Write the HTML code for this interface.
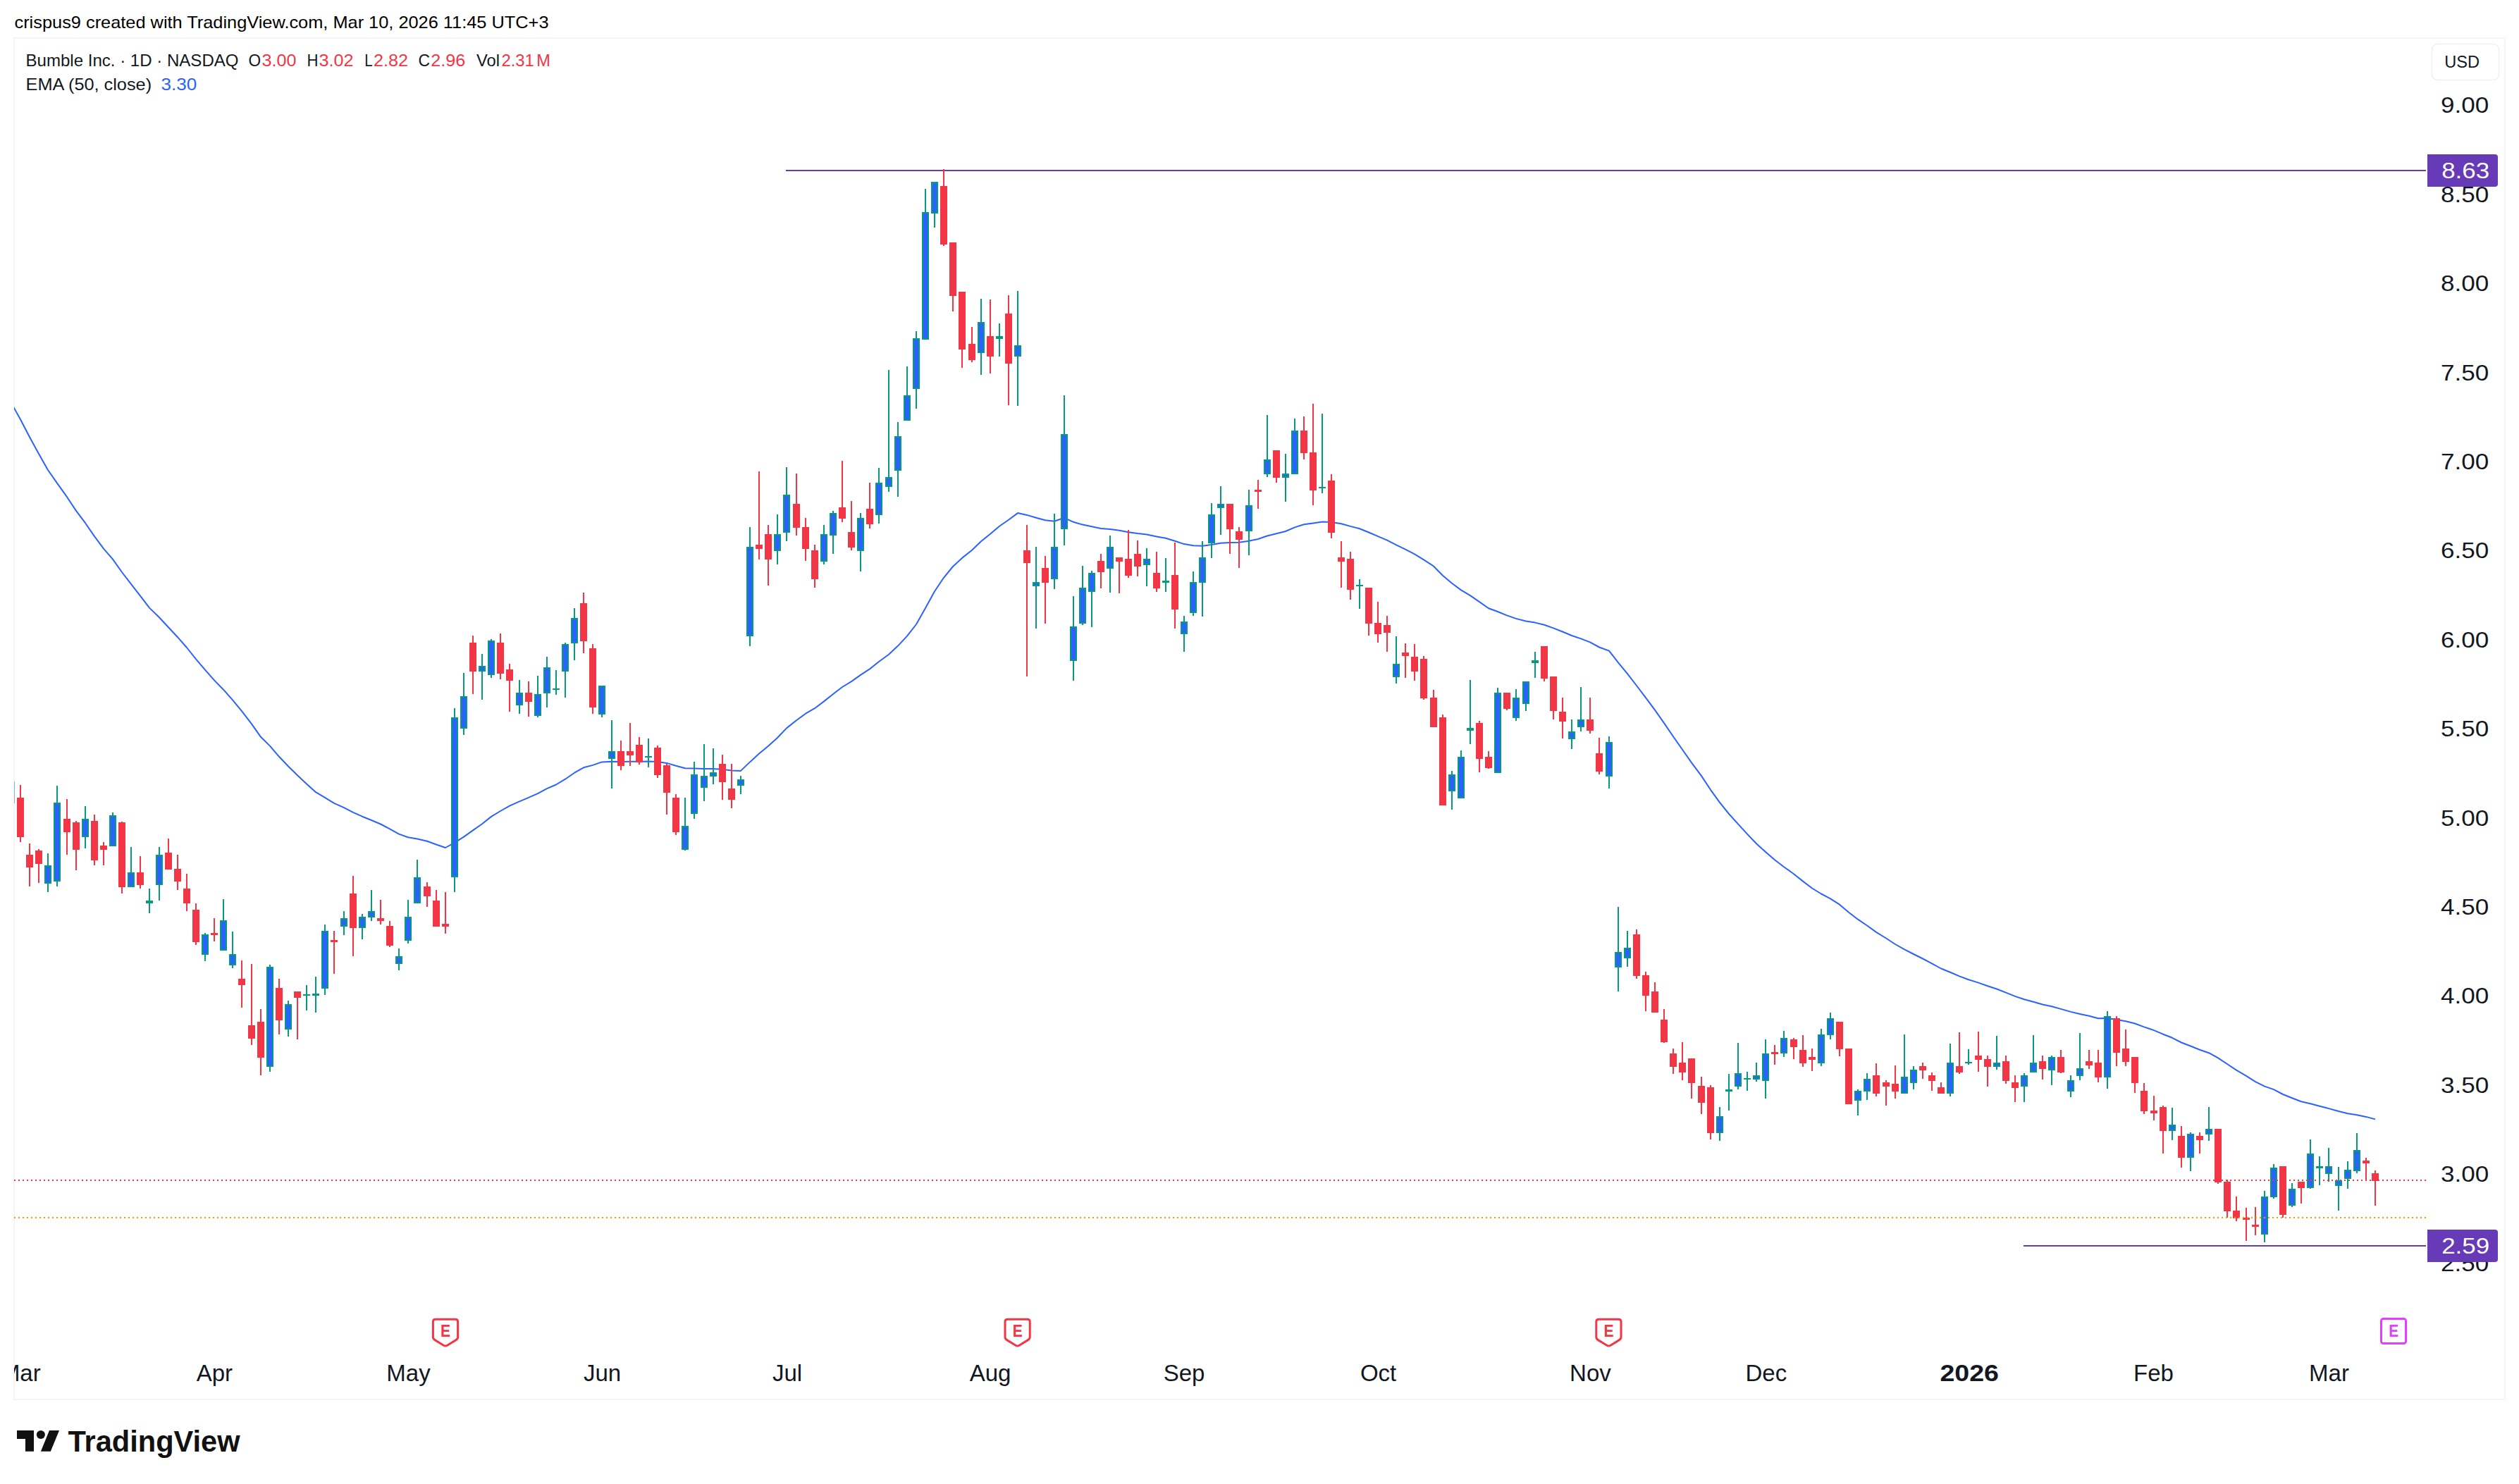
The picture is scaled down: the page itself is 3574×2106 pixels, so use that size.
<!DOCTYPE html>
<html lang="en"><head><meta charset="utf-8"><title>Bumble Inc. chart</title>
<style>html,body{margin:0;padding:0;background:#fff}body{width:3574px;height:2106px;position:relative;overflow:hidden}</style>
</head><body>
<svg width="3574" height="2106" viewBox="0 0 3574 2106" style="position:absolute;left:0;top:0;font-family:'Liberation Sans',sans-serif">
<rect x="0" y="0" width="3574" height="2106" fill="#ffffff"/>
<rect x="20" y="54" width="3534" height="1932" fill="none" stroke="#f4f4f5" stroke-width="2" shape-rendering="crispEdges"/>
<defs><clipPath id="plot"><rect x="20" y="55" width="3422" height="1930"/></clipPath></defs>
<g shape-rendering="crispEdges">
<rect x="1115" y="241" width="2327" height="2" fill="#673AB7"/>
<rect x="2871" y="1767" width="571" height="2" fill="#673AB7"/>
</g>
<polyline points="16.0,571.8 29.0,595.2 42.0,620.2 55.0,644.0 68.0,667.0 81.0,685.6 95.0,705.2 108.0,724.9 121.0,742.2 134.0,761.1 147.0,778.7 160.0,793.7 173.0,812.0 186.0,828.9 199.0,845.6 212.0,862.6 226.0,876.2 239.0,890.2 252.0,904.2 265.0,919.0 278.0,935.3 291.0,950.7 304.0,965.4 317.0,978.7 330.0,993.4 343.0,1009.2 357.0,1027.3 370.0,1045.8 383.0,1058.6 396.0,1073.8 409.0,1087.5 422.0,1100.3 435.0,1112.5 448.0,1124.2 461.0,1131.8 474.0,1139.9 488.0,1146.2 501.0,1152.9 514.0,1158.7 527.0,1164.0 540.0,1169.5 553.0,1176.4 566.0,1183.6 579.0,1188.2 592.0,1190.5 606.0,1193.7 619.0,1198.5 632.0,1203.0 645.0,1195.8 658.0,1187.6 671.0,1178.4 684.0,1169.2 697.0,1158.9 710.0,1151.0 723.0,1143.7 737.0,1137.4 750.0,1131.9 763.0,1126.1 776.0,1119.1 789.0,1113.5 802.0,1105.7 815.0,1096.7 828.0,1089.3 841.0,1085.9 854.0,1081.4 868.0,1080.8 881.0,1081.0 894.0,1080.7 907.0,1080.7 920.0,1080.4 933.0,1081.1 946.0,1082.9 959.0,1086.8 972.0,1090.2 985.0,1090.5 999.0,1091.0 1012.0,1091.1 1025.0,1091.8 1038.0,1093.4 1051.0,1093.9 1064.0,1081.4 1077.0,1069.5 1090.0,1058.7 1103.0,1047.0 1116.0,1033.4 1130.0,1022.3 1143.0,1012.7 1156.0,1005.2 1169.0,995.4 1182.0,985.0 1195.0,975.0 1208.0,967.1 1221.0,957.9 1234.0,949.4 1247.0,939.0 1261.0,928.7 1274.0,916.6 1287.0,902.6 1300.0,886.0 1313.0,863.0 1326.0,839.2 1339.0,819.8 1352.0,804.0 1365.0,791.9 1379.0,780.8 1392.0,768.2 1405.0,757.8 1418.0,746.8 1431.0,737.7 1444.0,728.1 1457.0,730.9 1470.0,734.7 1483.0,738.3 1496.0,739.7 1510.0,734.8 1523.0,740.8 1536.0,744.6 1549.0,747.3 1562.0,749.9 1575.0,750.9 1588.0,752.7 1601.0,755.2 1614.0,757.1 1627.0,758.5 1641.0,761.4 1654.0,763.8 1667.0,767.7 1680.0,772.1 1693.0,774.2 1706.0,774.8 1719.0,773.0 1732.0,770.7 1745.0,769.9 1758.0,769.8 1772.0,767.7 1785.0,765.0 1798.0,760.5 1811.0,757.3 1824.0,754.0 1837.0,748.4 1850.0,744.3 1863.0,742.4 1876.0,740.4 1889.0,741.0 1903.0,743.2 1916.0,746.9 1929.0,750.2 1942.0,755.5 1955.0,761.2 1968.0,766.6 1981.0,773.4 1994.0,779.6 2007.0,786.4 2020.0,794.3 2034.0,803.5 2047.0,816.8 2060.0,827.8 2073.0,837.4 2086.0,845.1 2099.0,854.1 2112.0,863.3 2125.0,868.0 2138.0,873.4 2151.0,877.9 2165.0,881.5 2178.0,883.6 2191.0,886.7 2204.0,891.4 2217.0,896.5 2230.0,902.0 2243.0,906.4 2256.0,911.4 2269.0,918.5 2283.0,923.6 2296.0,940.3 2309.0,956.2 2322.0,973.0 2335.0,990.2 2348.0,1007.7 2361.0,1026.1 2374.0,1045.2 2387.0,1063.8 2400.0,1082.3 2414.0,1101.1 2427.0,1120.8 2440.0,1138.9 2453.0,1155.0 2466.0,1169.4 2479.0,1183.6 2492.0,1197.2 2505.0,1208.9 2518.0,1220.2 2531.0,1230.2 2545.0,1240.2 2558.0,1250.6 2571.0,1260.5 2584.0,1268.5 2597.0,1275.4 2610.0,1283.7 2623.0,1294.7 2636.0,1304.7 2649.0,1313.5 2662.0,1322.9 2676.0,1331.5 2689.0,1340.0 2702.0,1347.3 2715.0,1354.0 2728.0,1360.5 2741.0,1367.3 2754.0,1374.5 2767.0,1379.8 2780.0,1385.4 2793.0,1390.2 2807.0,1394.6 2820.0,1399.2 2833.0,1403.5 2846.0,1408.6 2859.0,1413.9 2872.0,1418.3 2885.0,1421.8 2898.0,1425.5 2911.0,1428.3 2924.0,1431.9 2938.0,1435.9 2951.0,1439.0 2964.0,1441.8 2977.0,1445.2 2990.0,1445.0 3003.0,1446.9 3016.0,1449.2 3029.0,1452.5 3042.0,1457.4 3056.0,1462.1 3069.0,1467.7 3082.0,1472.8 3095.0,1479.5 3108.0,1484.5 3121.0,1489.8 3134.0,1494.2 3147.0,1501.4 3160.0,1510.0 3173.0,1518.6 3187.0,1526.9 3200.0,1535.2 3213.0,1541.6 3226.0,1546.1 3239.0,1553.0 3252.0,1558.3 3265.0,1563.3 3278.0,1566.2 3291.0,1569.7 3304.0,1573.1 3318.0,1577.0 3331.0,1580.2 3344.0,1582.2 3357.0,1584.9 3370.0,1588.4" fill="none" stroke="#2962FF" stroke-width="2" stroke-linejoin="round" stroke-linecap="butt" clip-path="url(#plot)"/>
<g shape-rendering="crispEdges" clip-path="url(#plot)">
<rect x="20" y="1109" width="1" height="31" fill="#7dc1b4" clip-path="none"/>
<rect x="28" y="1114" width="2" height="18" fill="#F23645"/>
<rect x="28" y="1188" width="2" height="7" fill="#F23645"/>
<rect x="24" y="1132" width="10" height="56" fill="#F23645"/>
<rect x="41" y="1197" width="2" height="16" fill="#F23645"/>
<rect x="41" y="1231" width="2" height="27" fill="#F23645"/>
<rect x="37" y="1213" width="10" height="18" fill="#F23645"/>
<rect x="54" y="1205" width="2" height="2" fill="#F23645"/>
<rect x="54" y="1226" width="2" height="27" fill="#F23645"/>
<rect x="50" y="1207" width="10" height="19" fill="#F23645"/>
<rect x="67" y="1211" width="2" height="17" fill="#089981"/>
<rect x="67" y="1254" width="2" height="12" fill="#089981"/>
<rect x="63" y="1228" width="10" height="26" fill="#089981"/>
<rect x="65" y="1230" width="6" height="22" fill="#2962FF"/>
<rect x="80" y="1115" width="2" height="24" fill="#089981"/>
<rect x="80" y="1251" width="2" height="7" fill="#089981"/>
<rect x="76" y="1139" width="10" height="112" fill="#089981"/>
<rect x="78" y="1141" width="6" height="108" fill="#2962FF"/>
<rect x="94" y="1134" width="2" height="28" fill="#F23645"/>
<rect x="94" y="1181" width="2" height="32" fill="#F23645"/>
<rect x="90" y="1162" width="10" height="19" fill="#F23645"/>
<rect x="107" y="1165" width="2" height="2" fill="#F23645"/>
<rect x="107" y="1206" width="2" height="29" fill="#F23645"/>
<rect x="103" y="1167" width="10" height="39" fill="#F23645"/>
<rect x="120" y="1144" width="2" height="18" fill="#089981"/>
<rect x="120" y="1188" width="2" height="16" fill="#089981"/>
<rect x="116" y="1162" width="10" height="26" fill="#089981"/>
<rect x="118" y="1164" width="6" height="22" fill="#2962FF"/>
<rect x="133" y="1156" width="2" height="9" fill="#F23645"/>
<rect x="133" y="1221" width="2" height="7" fill="#F23645"/>
<rect x="129" y="1165" width="10" height="56" fill="#F23645"/>
<rect x="146" y="1195" width="2" height="5" fill="#F23645"/>
<rect x="146" y="1206" width="2" height="22" fill="#F23645"/>
<rect x="142" y="1200" width="10" height="6" fill="#F23645"/>
<rect x="159" y="1153" width="2" height="4" fill="#089981"/>
<rect x="155" y="1157" width="10" height="44" fill="#089981"/>
<rect x="157" y="1159" width="6" height="40" fill="#2962FF"/>
<rect x="172" y="1166" width="2" height="1" fill="#F23645"/>
<rect x="172" y="1259" width="2" height="9" fill="#F23645"/>
<rect x="168" y="1167" width="10" height="92" fill="#F23645"/>
<rect x="185" y="1202" width="2" height="36" fill="#089981"/>
<rect x="181" y="1238" width="10" height="21" fill="#089981"/>
<rect x="183" y="1240" width="6" height="17" fill="#2962FF"/>
<rect x="198" y="1215" width="2" height="23" fill="#F23645"/>
<rect x="198" y="1256" width="2" height="5" fill="#F23645"/>
<rect x="194" y="1238" width="10" height="18" fill="#F23645"/>
<rect x="211" y="1261" width="2" height="17" fill="#089981"/>
<rect x="211" y="1282" width="2" height="14" fill="#089981"/>
<rect x="207" y="1278" width="10" height="4" fill="#089981"/>
<rect x="225" y="1202" width="2" height="11" fill="#089981"/>
<rect x="225" y="1256" width="2" height="22" fill="#089981"/>
<rect x="221" y="1213" width="10" height="43" fill="#089981"/>
<rect x="223" y="1215" width="6" height="39" fill="#2962FF"/>
<rect x="238" y="1190" width="2" height="20" fill="#F23645"/>
<rect x="234" y="1210" width="10" height="24" fill="#F23645"/>
<rect x="251" y="1213" width="2" height="20" fill="#F23645"/>
<rect x="251" y="1251" width="2" height="12" fill="#F23645"/>
<rect x="247" y="1233" width="10" height="18" fill="#F23645"/>
<rect x="264" y="1240" width="2" height="21" fill="#F23645"/>
<rect x="264" y="1282" width="2" height="11" fill="#F23645"/>
<rect x="260" y="1261" width="10" height="21" fill="#F23645"/>
<rect x="277" y="1282" width="2" height="9" fill="#F23645"/>
<rect x="277" y="1337" width="2" height="4" fill="#F23645"/>
<rect x="273" y="1291" width="10" height="46" fill="#F23645"/>
<rect x="290" y="1324" width="2" height="2" fill="#089981"/>
<rect x="290" y="1355" width="2" height="9" fill="#089981"/>
<rect x="286" y="1326" width="10" height="29" fill="#089981"/>
<rect x="288" y="1328" width="6" height="25" fill="#2962FF"/>
<rect x="303" y="1303" width="2" height="21" fill="#F23645"/>
<rect x="303" y="1327" width="2" height="9" fill="#F23645"/>
<rect x="299" y="1324" width="10" height="3" fill="#F23645"/>
<rect x="316" y="1276" width="2" height="30" fill="#089981"/>
<rect x="312" y="1306" width="10" height="43" fill="#089981"/>
<rect x="314" y="1308" width="6" height="39" fill="#2962FF"/>
<rect x="329" y="1322" width="2" height="32" fill="#089981"/>
<rect x="329" y="1370" width="2" height="4" fill="#089981"/>
<rect x="325" y="1354" width="10" height="16" fill="#089981"/>
<rect x="327" y="1356" width="6" height="12" fill="#2962FF"/>
<rect x="342" y="1363" width="2" height="26" fill="#F23645"/>
<rect x="342" y="1398" width="2" height="32" fill="#F23645"/>
<rect x="338" y="1389" width="10" height="9" fill="#F23645"/>
<rect x="356" y="1368" width="2" height="87" fill="#F23645"/>
<rect x="356" y="1474" width="2" height="9" fill="#F23645"/>
<rect x="352" y="1455" width="10" height="19" fill="#F23645"/>
<rect x="369" y="1432" width="2" height="18" fill="#F23645"/>
<rect x="369" y="1501" width="2" height="25" fill="#F23645"/>
<rect x="365" y="1450" width="10" height="51" fill="#F23645"/>
<rect x="382" y="1369" width="2" height="3" fill="#089981"/>
<rect x="382" y="1514" width="2" height="7" fill="#089981"/>
<rect x="378" y="1372" width="10" height="142" fill="#089981"/>
<rect x="380" y="1374" width="6" height="138" fill="#2962FF"/>
<rect x="395" y="1389" width="2" height="13" fill="#F23645"/>
<rect x="395" y="1448" width="2" height="20" fill="#F23645"/>
<rect x="391" y="1402" width="10" height="46" fill="#F23645"/>
<rect x="408" y="1420" width="2" height="5" fill="#089981"/>
<rect x="408" y="1461" width="2" height="10" fill="#089981"/>
<rect x="404" y="1425" width="10" height="36" fill="#089981"/>
<rect x="406" y="1427" width="6" height="32" fill="#2962FF"/>
<rect x="421" y="1416" width="2" height="59" fill="#F23645"/>
<rect x="417" y="1407" width="10" height="9" fill="#F23645"/>
<rect x="434" y="1398" width="2" height="13" fill="#089981"/>
<rect x="434" y="1413" width="2" height="21" fill="#089981"/>
<rect x="430" y="1411" width="10" height="2" fill="#089981"/>
<rect x="447" y="1386" width="2" height="24" fill="#089981"/>
<rect x="447" y="1413" width="2" height="24" fill="#089981"/>
<rect x="443" y="1410" width="10" height="3" fill="#089981"/>
<rect x="460" y="1312" width="2" height="9" fill="#089981"/>
<rect x="460" y="1403" width="2" height="9" fill="#089981"/>
<rect x="456" y="1321" width="10" height="82" fill="#089981"/>
<rect x="458" y="1323" width="6" height="78" fill="#2962FF"/>
<rect x="473" y="1321" width="2" height="13" fill="#F23645"/>
<rect x="473" y="1337" width="2" height="45" fill="#F23645"/>
<rect x="469" y="1334" width="10" height="3" fill="#F23645"/>
<rect x="487" y="1293" width="2" height="10" fill="#089981"/>
<rect x="487" y="1315" width="2" height="12" fill="#089981"/>
<rect x="483" y="1303" width="10" height="12" fill="#089981"/>
<rect x="485" y="1305" width="6" height="8" fill="#2962FF"/>
<rect x="500" y="1243" width="2" height="25" fill="#F23645"/>
<rect x="500" y="1317" width="2" height="40" fill="#F23645"/>
<rect x="496" y="1268" width="10" height="49" fill="#F23645"/>
<rect x="513" y="1297" width="2" height="4" fill="#089981"/>
<rect x="513" y="1317" width="2" height="16" fill="#089981"/>
<rect x="509" y="1301" width="10" height="16" fill="#089981"/>
<rect x="511" y="1303" width="6" height="12" fill="#2962FF"/>
<rect x="526" y="1263" width="2" height="30" fill="#089981"/>
<rect x="526" y="1302" width="2" height="5" fill="#089981"/>
<rect x="522" y="1293" width="10" height="9" fill="#089981"/>
<rect x="524" y="1295" width="6" height="5" fill="#2962FF"/>
<rect x="539" y="1277" width="2" height="26" fill="#F23645"/>
<rect x="539" y="1307" width="2" height="5" fill="#F23645"/>
<rect x="535" y="1303" width="10" height="4" fill="#F23645"/>
<rect x="552" y="1307" width="2" height="7" fill="#F23645"/>
<rect x="552" y="1342" width="2" height="2" fill="#F23645"/>
<rect x="548" y="1314" width="10" height="28" fill="#F23645"/>
<rect x="565" y="1346" width="2" height="11" fill="#089981"/>
<rect x="565" y="1368" width="2" height="9" fill="#089981"/>
<rect x="561" y="1357" width="10" height="11" fill="#089981"/>
<rect x="563" y="1359" width="6" height="7" fill="#2962FF"/>
<rect x="578" y="1277" width="2" height="24" fill="#089981"/>
<rect x="578" y="1335" width="2" height="4" fill="#089981"/>
<rect x="574" y="1301" width="10" height="34" fill="#089981"/>
<rect x="576" y="1303" width="6" height="30" fill="#2962FF"/>
<rect x="591" y="1220" width="2" height="25" fill="#089981"/>
<rect x="587" y="1245" width="10" height="37" fill="#089981"/>
<rect x="589" y="1247" width="6" height="33" fill="#2962FF"/>
<rect x="605" y="1252" width="2" height="6" fill="#F23645"/>
<rect x="605" y="1272" width="2" height="15" fill="#F23645"/>
<rect x="601" y="1258" width="10" height="14" fill="#F23645"/>
<rect x="618" y="1263" width="2" height="15" fill="#F23645"/>
<rect x="614" y="1278" width="10" height="37" fill="#F23645"/>
<rect x="631" y="1266" width="2" height="45" fill="#F23645"/>
<rect x="631" y="1315" width="2" height="10" fill="#F23645"/>
<rect x="627" y="1311" width="10" height="4" fill="#F23645"/>
<rect x="644" y="1005" width="2" height="13" fill="#089981"/>
<rect x="644" y="1245" width="2" height="21" fill="#089981"/>
<rect x="640" y="1018" width="10" height="227" fill="#089981"/>
<rect x="642" y="1020" width="6" height="223" fill="#2962FF"/>
<rect x="657" y="955" width="2" height="33" fill="#089981"/>
<rect x="657" y="1034" width="2" height="9" fill="#089981"/>
<rect x="653" y="988" width="10" height="46" fill="#089981"/>
<rect x="655" y="990" width="6" height="42" fill="#2962FF"/>
<rect x="670" y="902" width="2" height="10" fill="#F23645"/>
<rect x="670" y="953" width="2" height="32" fill="#F23645"/>
<rect x="666" y="912" width="10" height="41" fill="#F23645"/>
<rect x="683" y="928" width="2" height="17" fill="#089981"/>
<rect x="683" y="953" width="2" height="40" fill="#089981"/>
<rect x="679" y="945" width="10" height="8" fill="#089981"/>
<rect x="681" y="947" width="6" height="4" fill="#2962FF"/>
<rect x="696" y="907" width="2" height="2" fill="#089981"/>
<rect x="696" y="958" width="2" height="4" fill="#089981"/>
<rect x="692" y="909" width="10" height="49" fill="#089981"/>
<rect x="694" y="911" width="6" height="45" fill="#2962FF"/>
<rect x="709" y="899" width="2" height="13" fill="#F23645"/>
<rect x="709" y="956" width="2" height="8" fill="#F23645"/>
<rect x="705" y="912" width="10" height="44" fill="#F23645"/>
<rect x="722" y="942" width="2" height="8" fill="#F23645"/>
<rect x="722" y="966" width="2" height="44" fill="#F23645"/>
<rect x="718" y="950" width="10" height="16" fill="#F23645"/>
<rect x="736" y="965" width="2" height="18" fill="#089981"/>
<rect x="736" y="1001" width="2" height="12" fill="#089981"/>
<rect x="732" y="983" width="10" height="18" fill="#089981"/>
<rect x="734" y="985" width="6" height="14" fill="#2962FF"/>
<rect x="749" y="967" width="2" height="16" fill="#F23645"/>
<rect x="749" y="996" width="2" height="21" fill="#F23645"/>
<rect x="745" y="983" width="10" height="13" fill="#F23645"/>
<rect x="762" y="959" width="2" height="26" fill="#089981"/>
<rect x="762" y="1016" width="2" height="2" fill="#089981"/>
<rect x="758" y="985" width="10" height="31" fill="#089981"/>
<rect x="760" y="987" width="6" height="27" fill="#2962FF"/>
<rect x="775" y="932" width="2" height="15" fill="#089981"/>
<rect x="775" y="984" width="2" height="20" fill="#089981"/>
<rect x="771" y="947" width="10" height="37" fill="#089981"/>
<rect x="773" y="949" width="6" height="33" fill="#2962FF"/>
<rect x="788" y="951" width="2" height="26" fill="#089981"/>
<rect x="788" y="979" width="2" height="7" fill="#089981"/>
<rect x="784" y="977" width="10" height="2" fill="#089981"/>
<rect x="801" y="912" width="2" height="2" fill="#089981"/>
<rect x="801" y="953" width="2" height="37" fill="#089981"/>
<rect x="797" y="914" width="10" height="39" fill="#089981"/>
<rect x="799" y="916" width="6" height="35" fill="#2962FF"/>
<rect x="814" y="863" width="2" height="14" fill="#089981"/>
<rect x="814" y="913" width="2" height="24" fill="#089981"/>
<rect x="810" y="877" width="10" height="36" fill="#089981"/>
<rect x="812" y="879" width="6" height="32" fill="#2962FF"/>
<rect x="827" y="841" width="2" height="15" fill="#F23645"/>
<rect x="827" y="910" width="2" height="17" fill="#F23645"/>
<rect x="823" y="856" width="10" height="54" fill="#F23645"/>
<rect x="840" y="914" width="2" height="6" fill="#F23645"/>
<rect x="840" y="1004" width="2" height="9" fill="#F23645"/>
<rect x="836" y="920" width="10" height="84" fill="#F23645"/>
<rect x="853" y="1014" width="2" height="4" fill="#089981"/>
<rect x="849" y="973" width="10" height="41" fill="#089981"/>
<rect x="851" y="975" width="6" height="37" fill="#2962FF"/>
<rect x="867" y="1022" width="2" height="44" fill="#089981"/>
<rect x="867" y="1077" width="2" height="42" fill="#089981"/>
<rect x="863" y="1066" width="10" height="11" fill="#089981"/>
<rect x="865" y="1068" width="6" height="7" fill="#2962FF"/>
<rect x="880" y="1051" width="2" height="15" fill="#F23645"/>
<rect x="880" y="1087" width="2" height="6" fill="#F23645"/>
<rect x="876" y="1066" width="10" height="21" fill="#F23645"/>
<rect x="893" y="1026" width="2" height="40" fill="#F23645"/>
<rect x="893" y="1072" width="2" height="15" fill="#F23645"/>
<rect x="889" y="1066" width="10" height="6" fill="#F23645"/>
<rect x="906" y="1046" width="2" height="11" fill="#F23645"/>
<rect x="906" y="1082" width="2" height="3" fill="#F23645"/>
<rect x="902" y="1057" width="10" height="25" fill="#F23645"/>
<rect x="919" y="1048" width="2" height="25" fill="#089981"/>
<rect x="919" y="1075" width="2" height="14" fill="#089981"/>
<rect x="915" y="1073" width="10" height="2" fill="#089981"/>
<rect x="932" y="1058" width="2" height="3" fill="#F23645"/>
<rect x="932" y="1100" width="2" height="4" fill="#F23645"/>
<rect x="928" y="1061" width="10" height="39" fill="#F23645"/>
<rect x="945" y="1084" width="2" height="2" fill="#F23645"/>
<rect x="945" y="1125" width="2" height="31" fill="#F23645"/>
<rect x="941" y="1086" width="10" height="39" fill="#F23645"/>
<rect x="958" y="1127" width="2" height="5" fill="#F23645"/>
<rect x="958" y="1181" width="2" height="4" fill="#F23645"/>
<rect x="954" y="1132" width="10" height="49" fill="#F23645"/>
<rect x="971" y="1132" width="2" height="40" fill="#089981"/>
<rect x="971" y="1206" width="2" height="1" fill="#089981"/>
<rect x="967" y="1172" width="10" height="34" fill="#089981"/>
<rect x="969" y="1174" width="6" height="30" fill="#2962FF"/>
<rect x="984" y="1081" width="2" height="18" fill="#089981"/>
<rect x="984" y="1155" width="2" height="7" fill="#089981"/>
<rect x="980" y="1099" width="10" height="56" fill="#089981"/>
<rect x="982" y="1101" width="6" height="52" fill="#2962FF"/>
<rect x="998" y="1056" width="2" height="45" fill="#089981"/>
<rect x="998" y="1118" width="2" height="19" fill="#089981"/>
<rect x="994" y="1101" width="10" height="17" fill="#089981"/>
<rect x="996" y="1103" width="6" height="13" fill="#2962FF"/>
<rect x="1011" y="1062" width="2" height="34" fill="#089981"/>
<rect x="1011" y="1102" width="2" height="11" fill="#089981"/>
<rect x="1007" y="1096" width="10" height="6" fill="#089981"/>
<rect x="1009" y="1098" width="6" height="2" fill="#2962FF"/>
<rect x="1024" y="1071" width="2" height="13" fill="#F23645"/>
<rect x="1024" y="1110" width="2" height="25" fill="#F23645"/>
<rect x="1020" y="1084" width="10" height="26" fill="#F23645"/>
<rect x="1037" y="1084" width="2" height="35" fill="#F23645"/>
<rect x="1037" y="1135" width="2" height="12" fill="#F23645"/>
<rect x="1033" y="1119" width="10" height="16" fill="#F23645"/>
<rect x="1050" y="1101" width="2" height="5" fill="#089981"/>
<rect x="1050" y="1115" width="2" height="12" fill="#089981"/>
<rect x="1046" y="1106" width="10" height="9" fill="#089981"/>
<rect x="1048" y="1108" width="6" height="5" fill="#2962FF"/>
<rect x="1063" y="748" width="2" height="28" fill="#089981"/>
<rect x="1063" y="903" width="2" height="14" fill="#089981"/>
<rect x="1059" y="776" width="10" height="127" fill="#089981"/>
<rect x="1061" y="778" width="6" height="123" fill="#2962FF"/>
<rect x="1076" y="669" width="2" height="104" fill="#F23645"/>
<rect x="1076" y="779" width="2" height="15" fill="#F23645"/>
<rect x="1072" y="773" width="10" height="6" fill="#F23645"/>
<rect x="1089" y="745" width="2" height="13" fill="#F23645"/>
<rect x="1089" y="794" width="2" height="37" fill="#F23645"/>
<rect x="1085" y="758" width="10" height="36" fill="#F23645"/>
<rect x="1102" y="730" width="2" height="28" fill="#089981"/>
<rect x="1102" y="782" width="2" height="19" fill="#089981"/>
<rect x="1098" y="758" width="10" height="24" fill="#089981"/>
<rect x="1100" y="760" width="6" height="20" fill="#2962FF"/>
<rect x="1115" y="663" width="2" height="39" fill="#089981"/>
<rect x="1115" y="756" width="2" height="12" fill="#089981"/>
<rect x="1111" y="702" width="10" height="54" fill="#089981"/>
<rect x="1113" y="704" width="6" height="50" fill="#2962FF"/>
<rect x="1129" y="672" width="2" height="43" fill="#F23645"/>
<rect x="1129" y="749" width="2" height="11" fill="#F23645"/>
<rect x="1125" y="715" width="10" height="34" fill="#F23645"/>
<rect x="1142" y="735" width="2" height="13" fill="#F23645"/>
<rect x="1142" y="779" width="2" height="17" fill="#F23645"/>
<rect x="1138" y="748" width="10" height="31" fill="#F23645"/>
<rect x="1155" y="773" width="2" height="8" fill="#F23645"/>
<rect x="1155" y="822" width="2" height="12" fill="#F23645"/>
<rect x="1151" y="781" width="10" height="41" fill="#F23645"/>
<rect x="1168" y="745" width="2" height="13" fill="#089981"/>
<rect x="1168" y="797" width="2" height="4" fill="#089981"/>
<rect x="1164" y="758" width="10" height="39" fill="#089981"/>
<rect x="1166" y="760" width="6" height="35" fill="#2962FF"/>
<rect x="1181" y="725" width="2" height="3" fill="#089981"/>
<rect x="1181" y="760" width="2" height="26" fill="#089981"/>
<rect x="1177" y="728" width="10" height="32" fill="#089981"/>
<rect x="1179" y="730" width="6" height="28" fill="#2962FF"/>
<rect x="1194" y="654" width="2" height="66" fill="#F23645"/>
<rect x="1194" y="736" width="2" height="5" fill="#F23645"/>
<rect x="1190" y="720" width="10" height="16" fill="#F23645"/>
<rect x="1207" y="711" width="2" height="44" fill="#F23645"/>
<rect x="1207" y="777" width="2" height="4" fill="#F23645"/>
<rect x="1203" y="755" width="10" height="22" fill="#F23645"/>
<rect x="1220" y="728" width="2" height="7" fill="#089981"/>
<rect x="1220" y="782" width="2" height="29" fill="#089981"/>
<rect x="1216" y="735" width="10" height="47" fill="#089981"/>
<rect x="1218" y="737" width="6" height="43" fill="#2962FF"/>
<rect x="1233" y="685" width="2" height="37" fill="#F23645"/>
<rect x="1233" y="744" width="2" height="6" fill="#F23645"/>
<rect x="1229" y="722" width="10" height="22" fill="#F23645"/>
<rect x="1246" y="664" width="2" height="21" fill="#089981"/>
<rect x="1246" y="731" width="2" height="12" fill="#089981"/>
<rect x="1242" y="685" width="10" height="46" fill="#089981"/>
<rect x="1244" y="687" width="6" height="42" fill="#2962FF"/>
<rect x="1260" y="525" width="2" height="152" fill="#089981"/>
<rect x="1260" y="691" width="2" height="7" fill="#089981"/>
<rect x="1256" y="677" width="10" height="14" fill="#089981"/>
<rect x="1258" y="679" width="6" height="10" fill="#2962FF"/>
<rect x="1273" y="599" width="2" height="20" fill="#089981"/>
<rect x="1273" y="668" width="2" height="37" fill="#089981"/>
<rect x="1269" y="619" width="10" height="49" fill="#089981"/>
<rect x="1271" y="621" width="6" height="45" fill="#2962FF"/>
<rect x="1286" y="520" width="2" height="41" fill="#089981"/>
<rect x="1282" y="561" width="10" height="36" fill="#089981"/>
<rect x="1284" y="563" width="6" height="32" fill="#2962FF"/>
<rect x="1299" y="470" width="2" height="10" fill="#089981"/>
<rect x="1299" y="552" width="2" height="28" fill="#089981"/>
<rect x="1295" y="480" width="10" height="72" fill="#089981"/>
<rect x="1297" y="482" width="6" height="68" fill="#2962FF"/>
<rect x="1312" y="268" width="2" height="33" fill="#089981"/>
<rect x="1308" y="301" width="10" height="181" fill="#089981"/>
<rect x="1310" y="303" width="6" height="177" fill="#2962FF"/>
<rect x="1325" y="303" width="2" height="20" fill="#089981"/>
<rect x="1321" y="258" width="10" height="45" fill="#089981"/>
<rect x="1323" y="260" width="6" height="41" fill="#2962FF"/>
<rect x="1338" y="240" width="2" height="24" fill="#F23645"/>
<rect x="1338" y="347" width="2" height="2" fill="#F23645"/>
<rect x="1334" y="264" width="10" height="83" fill="#F23645"/>
<rect x="1351" y="420" width="2" height="22" fill="#F23645"/>
<rect x="1347" y="344" width="10" height="76" fill="#F23645"/>
<rect x="1364" y="496" width="2" height="26" fill="#F23645"/>
<rect x="1360" y="414" width="10" height="82" fill="#F23645"/>
<rect x="1378" y="464" width="2" height="24" fill="#F23645"/>
<rect x="1378" y="511" width="2" height="3" fill="#F23645"/>
<rect x="1374" y="488" width="10" height="23" fill="#F23645"/>
<rect x="1391" y="424" width="2" height="33" fill="#089981"/>
<rect x="1391" y="501" width="2" height="31" fill="#089981"/>
<rect x="1387" y="457" width="10" height="44" fill="#089981"/>
<rect x="1389" y="459" width="6" height="40" fill="#2962FF"/>
<rect x="1404" y="425" width="2" height="52" fill="#F23645"/>
<rect x="1404" y="506" width="2" height="24" fill="#F23645"/>
<rect x="1400" y="477" width="10" height="29" fill="#F23645"/>
<rect x="1417" y="459" width="2" height="18" fill="#089981"/>
<rect x="1417" y="481" width="2" height="25" fill="#089981"/>
<rect x="1413" y="477" width="10" height="4" fill="#089981"/>
<rect x="1430" y="419" width="2" height="26" fill="#F23645"/>
<rect x="1430" y="516" width="2" height="59" fill="#F23645"/>
<rect x="1426" y="445" width="10" height="71" fill="#F23645"/>
<rect x="1443" y="413" width="2" height="77" fill="#089981"/>
<rect x="1443" y="506" width="2" height="70" fill="#089981"/>
<rect x="1439" y="490" width="10" height="16" fill="#089981"/>
<rect x="1441" y="492" width="6" height="12" fill="#2962FF"/>
<rect x="1456" y="745" width="2" height="36" fill="#F23645"/>
<rect x="1456" y="799" width="2" height="161" fill="#F23645"/>
<rect x="1452" y="781" width="10" height="18" fill="#F23645"/>
<rect x="1469" y="776" width="2" height="50" fill="#089981"/>
<rect x="1469" y="832" width="2" height="60" fill="#089981"/>
<rect x="1465" y="826" width="10" height="6" fill="#089981"/>
<rect x="1467" y="828" width="6" height="2" fill="#2962FF"/>
<rect x="1482" y="789" width="2" height="17" fill="#F23645"/>
<rect x="1482" y="827" width="2" height="58" fill="#F23645"/>
<rect x="1478" y="806" width="10" height="21" fill="#F23645"/>
<rect x="1495" y="729" width="2" height="47" fill="#089981"/>
<rect x="1495" y="822" width="2" height="14" fill="#089981"/>
<rect x="1491" y="776" width="10" height="46" fill="#089981"/>
<rect x="1493" y="778" width="6" height="42" fill="#2962FF"/>
<rect x="1509" y="561" width="2" height="55" fill="#089981"/>
<rect x="1509" y="751" width="2" height="23" fill="#089981"/>
<rect x="1505" y="616" width="10" height="135" fill="#089981"/>
<rect x="1507" y="618" width="6" height="131" fill="#2962FF"/>
<rect x="1522" y="846" width="2" height="43" fill="#089981"/>
<rect x="1522" y="938" width="2" height="28" fill="#089981"/>
<rect x="1518" y="889" width="10" height="49" fill="#089981"/>
<rect x="1520" y="891" width="6" height="45" fill="#2962FF"/>
<rect x="1535" y="803" width="2" height="31" fill="#089981"/>
<rect x="1535" y="885" width="2" height="2" fill="#089981"/>
<rect x="1531" y="834" width="10" height="51" fill="#089981"/>
<rect x="1533" y="836" width="6" height="47" fill="#2962FF"/>
<rect x="1548" y="810" width="2" height="3" fill="#089981"/>
<rect x="1548" y="840" width="2" height="50" fill="#089981"/>
<rect x="1544" y="813" width="10" height="27" fill="#089981"/>
<rect x="1546" y="815" width="6" height="23" fill="#2962FF"/>
<rect x="1561" y="786" width="2" height="10" fill="#F23645"/>
<rect x="1561" y="812" width="2" height="23" fill="#F23645"/>
<rect x="1557" y="796" width="10" height="16" fill="#F23645"/>
<rect x="1574" y="760" width="2" height="16" fill="#089981"/>
<rect x="1574" y="807" width="2" height="34" fill="#089981"/>
<rect x="1570" y="776" width="10" height="31" fill="#089981"/>
<rect x="1572" y="778" width="6" height="27" fill="#2962FF"/>
<rect x="1587" y="797" width="2" height="45" fill="#F23645"/>
<rect x="1583" y="791" width="10" height="6" fill="#F23645"/>
<rect x="1600" y="752" width="2" height="41" fill="#F23645"/>
<rect x="1600" y="817" width="2" height="3" fill="#F23645"/>
<rect x="1596" y="793" width="10" height="24" fill="#F23645"/>
<rect x="1613" y="767" width="2" height="19" fill="#F23645"/>
<rect x="1613" y="804" width="2" height="14" fill="#F23645"/>
<rect x="1609" y="786" width="10" height="18" fill="#F23645"/>
<rect x="1626" y="778" width="2" height="15" fill="#089981"/>
<rect x="1626" y="802" width="2" height="30" fill="#089981"/>
<rect x="1622" y="793" width="10" height="9" fill="#089981"/>
<rect x="1624" y="795" width="6" height="5" fill="#2962FF"/>
<rect x="1640" y="783" width="2" height="30" fill="#F23645"/>
<rect x="1640" y="835" width="2" height="5" fill="#F23645"/>
<rect x="1636" y="813" width="10" height="22" fill="#F23645"/>
<rect x="1653" y="792" width="2" height="32" fill="#089981"/>
<rect x="1653" y="827" width="2" height="13" fill="#089981"/>
<rect x="1649" y="824" width="10" height="3" fill="#089981"/>
<rect x="1666" y="770" width="2" height="46" fill="#F23645"/>
<rect x="1666" y="865" width="2" height="27" fill="#F23645"/>
<rect x="1662" y="816" width="10" height="49" fill="#F23645"/>
<rect x="1679" y="874" width="2" height="8" fill="#089981"/>
<rect x="1679" y="900" width="2" height="25" fill="#089981"/>
<rect x="1675" y="882" width="10" height="18" fill="#089981"/>
<rect x="1677" y="884" width="6" height="14" fill="#2962FF"/>
<rect x="1692" y="811" width="2" height="15" fill="#089981"/>
<rect x="1692" y="870" width="2" height="4" fill="#089981"/>
<rect x="1688" y="826" width="10" height="44" fill="#089981"/>
<rect x="1690" y="828" width="6" height="40" fill="#2962FF"/>
<rect x="1705" y="768" width="2" height="23" fill="#089981"/>
<rect x="1705" y="827" width="2" height="48" fill="#089981"/>
<rect x="1701" y="791" width="10" height="36" fill="#089981"/>
<rect x="1703" y="793" width="6" height="32" fill="#2962FF"/>
<rect x="1718" y="714" width="2" height="16" fill="#089981"/>
<rect x="1718" y="771" width="2" height="21" fill="#089981"/>
<rect x="1714" y="730" width="10" height="41" fill="#089981"/>
<rect x="1716" y="732" width="6" height="37" fill="#2962FF"/>
<rect x="1731" y="690" width="2" height="25" fill="#089981"/>
<rect x="1731" y="721" width="2" height="38" fill="#089981"/>
<rect x="1727" y="715" width="10" height="6" fill="#089981"/>
<rect x="1729" y="717" width="6" height="2" fill="#2962FF"/>
<rect x="1744" y="751" width="2" height="35" fill="#F23645"/>
<rect x="1740" y="715" width="10" height="36" fill="#F23645"/>
<rect x="1757" y="748" width="2" height="6" fill="#F23645"/>
<rect x="1757" y="766" width="2" height="40" fill="#F23645"/>
<rect x="1753" y="754" width="10" height="12" fill="#F23645"/>
<rect x="1771" y="695" width="2" height="22" fill="#089981"/>
<rect x="1771" y="754" width="2" height="34" fill="#089981"/>
<rect x="1767" y="717" width="10" height="37" fill="#089981"/>
<rect x="1769" y="719" width="6" height="33" fill="#2962FF"/>
<rect x="1784" y="681" width="2" height="14" fill="#F23645"/>
<rect x="1784" y="698" width="2" height="24" fill="#F23645"/>
<rect x="1780" y="695" width="10" height="3" fill="#F23645"/>
<rect x="1797" y="589" width="2" height="63" fill="#089981"/>
<rect x="1797" y="673" width="2" height="4" fill="#089981"/>
<rect x="1793" y="652" width="10" height="21" fill="#089981"/>
<rect x="1795" y="654" width="6" height="17" fill="#2962FF"/>
<rect x="1810" y="678" width="2" height="7" fill="#F23645"/>
<rect x="1806" y="639" width="10" height="39" fill="#F23645"/>
<rect x="1823" y="644" width="2" height="28" fill="#089981"/>
<rect x="1823" y="678" width="2" height="34" fill="#089981"/>
<rect x="1819" y="672" width="10" height="6" fill="#089981"/>
<rect x="1821" y="674" width="6" height="2" fill="#2962FF"/>
<rect x="1836" y="594" width="2" height="17" fill="#089981"/>
<rect x="1832" y="611" width="10" height="62" fill="#089981"/>
<rect x="1834" y="613" width="6" height="58" fill="#2962FF"/>
<rect x="1849" y="591" width="2" height="20" fill="#F23645"/>
<rect x="1849" y="643" width="2" height="9" fill="#F23645"/>
<rect x="1845" y="611" width="10" height="32" fill="#F23645"/>
<rect x="1862" y="573" width="2" height="69" fill="#F23645"/>
<rect x="1862" y="696" width="2" height="21" fill="#F23645"/>
<rect x="1858" y="642" width="10" height="54" fill="#F23645"/>
<rect x="1875" y="587" width="2" height="104" fill="#089981"/>
<rect x="1875" y="693" width="2" height="7" fill="#089981"/>
<rect x="1871" y="691" width="10" height="2" fill="#089981"/>
<rect x="1888" y="673" width="2" height="9" fill="#F23645"/>
<rect x="1888" y="756" width="2" height="8" fill="#F23645"/>
<rect x="1884" y="682" width="10" height="74" fill="#F23645"/>
<rect x="1902" y="768" width="2" height="23" fill="#F23645"/>
<rect x="1902" y="797" width="2" height="37" fill="#F23645"/>
<rect x="1898" y="791" width="10" height="6" fill="#F23645"/>
<rect x="1915" y="783" width="2" height="10" fill="#F23645"/>
<rect x="1915" y="837" width="2" height="14" fill="#F23645"/>
<rect x="1911" y="793" width="10" height="44" fill="#F23645"/>
<rect x="1928" y="822" width="2" height="8" fill="#089981"/>
<rect x="1928" y="832" width="2" height="32" fill="#089981"/>
<rect x="1924" y="830" width="10" height="2" fill="#089981"/>
<rect x="1941" y="885" width="2" height="17" fill="#F23645"/>
<rect x="1937" y="834" width="10" height="51" fill="#F23645"/>
<rect x="1954" y="854" width="2" height="30" fill="#F23645"/>
<rect x="1954" y="900" width="2" height="12" fill="#F23645"/>
<rect x="1950" y="884" width="10" height="16" fill="#F23645"/>
<rect x="1967" y="874" width="2" height="13" fill="#F23645"/>
<rect x="1967" y="898" width="2" height="27" fill="#F23645"/>
<rect x="1963" y="887" width="10" height="11" fill="#F23645"/>
<rect x="1980" y="903" width="2" height="39" fill="#089981"/>
<rect x="1980" y="961" width="2" height="9" fill="#089981"/>
<rect x="1976" y="942" width="10" height="19" fill="#089981"/>
<rect x="1978" y="944" width="6" height="15" fill="#2962FF"/>
<rect x="1993" y="913" width="2" height="13" fill="#F23645"/>
<rect x="1993" y="931" width="2" height="31" fill="#F23645"/>
<rect x="1989" y="926" width="10" height="5" fill="#F23645"/>
<rect x="2006" y="914" width="2" height="18" fill="#F23645"/>
<rect x="2006" y="953" width="2" height="13" fill="#F23645"/>
<rect x="2002" y="932" width="10" height="21" fill="#F23645"/>
<rect x="2019" y="931" width="2" height="4" fill="#F23645"/>
<rect x="2019" y="991" width="2" height="2" fill="#F23645"/>
<rect x="2015" y="935" width="10" height="56" fill="#F23645"/>
<rect x="2033" y="979" width="2" height="11" fill="#F23645"/>
<rect x="2029" y="990" width="10" height="42" fill="#F23645"/>
<rect x="2046" y="1014" width="2" height="4" fill="#F23645"/>
<rect x="2042" y="1018" width="10" height="125" fill="#F23645"/>
<rect x="2059" y="1094" width="2" height="5" fill="#089981"/>
<rect x="2059" y="1123" width="2" height="26" fill="#089981"/>
<rect x="2055" y="1099" width="10" height="24" fill="#089981"/>
<rect x="2057" y="1101" width="6" height="20" fill="#2962FF"/>
<rect x="2072" y="1065" width="2" height="9" fill="#089981"/>
<rect x="2068" y="1074" width="10" height="59" fill="#089981"/>
<rect x="2070" y="1076" width="6" height="55" fill="#2962FF"/>
<rect x="2085" y="965" width="2" height="68" fill="#089981"/>
<rect x="2085" y="1037" width="2" height="19" fill="#089981"/>
<rect x="2081" y="1033" width="10" height="4" fill="#089981"/>
<rect x="2098" y="1023" width="2" height="3" fill="#F23645"/>
<rect x="2098" y="1077" width="2" height="19" fill="#F23645"/>
<rect x="2094" y="1026" width="10" height="51" fill="#F23645"/>
<rect x="2111" y="1066" width="2" height="8" fill="#F23645"/>
<rect x="2111" y="1090" width="2" height="1" fill="#F23645"/>
<rect x="2107" y="1074" width="10" height="16" fill="#F23645"/>
<rect x="2124" y="976" width="2" height="7" fill="#089981"/>
<rect x="2120" y="983" width="10" height="114" fill="#089981"/>
<rect x="2122" y="985" width="6" height="110" fill="#2962FF"/>
<rect x="2137" y="1006" width="2" height="2" fill="#F23645"/>
<rect x="2133" y="983" width="10" height="23" fill="#F23645"/>
<rect x="2150" y="978" width="2" height="12" fill="#089981"/>
<rect x="2150" y="1019" width="2" height="4" fill="#089981"/>
<rect x="2146" y="990" width="10" height="29" fill="#089981"/>
<rect x="2148" y="992" width="6" height="25" fill="#2962FF"/>
<rect x="2164" y="999" width="2" height="10" fill="#089981"/>
<rect x="2160" y="967" width="10" height="32" fill="#089981"/>
<rect x="2162" y="969" width="6" height="28" fill="#2962FF"/>
<rect x="2177" y="925" width="2" height="12" fill="#089981"/>
<rect x="2177" y="941" width="2" height="21" fill="#089981"/>
<rect x="2173" y="937" width="10" height="4" fill="#089981"/>
<rect x="2190" y="963" width="2" height="4" fill="#F23645"/>
<rect x="2186" y="917" width="10" height="46" fill="#F23645"/>
<rect x="2203" y="1009" width="2" height="12" fill="#F23645"/>
<rect x="2199" y="960" width="10" height="49" fill="#F23645"/>
<rect x="2216" y="990" width="2" height="20" fill="#F23645"/>
<rect x="2216" y="1024" width="2" height="24" fill="#F23645"/>
<rect x="2212" y="1010" width="10" height="14" fill="#F23645"/>
<rect x="2229" y="1021" width="2" height="17" fill="#089981"/>
<rect x="2229" y="1049" width="2" height="14" fill="#089981"/>
<rect x="2225" y="1038" width="10" height="11" fill="#089981"/>
<rect x="2227" y="1040" width="6" height="7" fill="#2962FF"/>
<rect x="2242" y="975" width="2" height="46" fill="#089981"/>
<rect x="2242" y="1032" width="2" height="6" fill="#089981"/>
<rect x="2238" y="1021" width="10" height="11" fill="#089981"/>
<rect x="2240" y="1023" width="6" height="7" fill="#2962FF"/>
<rect x="2255" y="990" width="2" height="31" fill="#F23645"/>
<rect x="2255" y="1037" width="2" height="4" fill="#F23645"/>
<rect x="2251" y="1021" width="10" height="16" fill="#F23645"/>
<rect x="2268" y="1047" width="2" height="22" fill="#F23645"/>
<rect x="2268" y="1095" width="2" height="4" fill="#F23645"/>
<rect x="2264" y="1069" width="10" height="26" fill="#F23645"/>
<rect x="2282" y="1045" width="2" height="8" fill="#089981"/>
<rect x="2282" y="1102" width="2" height="17" fill="#089981"/>
<rect x="2278" y="1053" width="10" height="49" fill="#089981"/>
<rect x="2280" y="1055" width="6" height="45" fill="#2962FF"/>
<rect x="2295" y="1287" width="2" height="64" fill="#089981"/>
<rect x="2295" y="1373" width="2" height="34" fill="#089981"/>
<rect x="2291" y="1351" width="10" height="22" fill="#089981"/>
<rect x="2293" y="1353" width="6" height="18" fill="#2962FF"/>
<rect x="2308" y="1321" width="2" height="24" fill="#089981"/>
<rect x="2308" y="1360" width="2" height="12" fill="#089981"/>
<rect x="2304" y="1345" width="10" height="15" fill="#089981"/>
<rect x="2306" y="1347" width="6" height="11" fill="#2962FF"/>
<rect x="2321" y="1319" width="2" height="7" fill="#F23645"/>
<rect x="2321" y="1385" width="2" height="4" fill="#F23645"/>
<rect x="2317" y="1326" width="10" height="59" fill="#F23645"/>
<rect x="2334" y="1379" width="2" height="5" fill="#F23645"/>
<rect x="2334" y="1413" width="2" height="22" fill="#F23645"/>
<rect x="2330" y="1384" width="10" height="29" fill="#F23645"/>
<rect x="2347" y="1394" width="2" height="13" fill="#F23645"/>
<rect x="2343" y="1407" width="10" height="30" fill="#F23645"/>
<rect x="2360" y="1432" width="2" height="15" fill="#F23645"/>
<rect x="2360" y="1479" width="2" height="1" fill="#F23645"/>
<rect x="2356" y="1447" width="10" height="32" fill="#F23645"/>
<rect x="2373" y="1488" width="2" height="7" fill="#F23645"/>
<rect x="2373" y="1514" width="2" height="10" fill="#F23645"/>
<rect x="2369" y="1495" width="10" height="19" fill="#F23645"/>
<rect x="2386" y="1479" width="2" height="29" fill="#F23645"/>
<rect x="2386" y="1522" width="2" height="11" fill="#F23645"/>
<rect x="2382" y="1508" width="10" height="14" fill="#F23645"/>
<rect x="2399" y="1537" width="2" height="22" fill="#F23645"/>
<rect x="2395" y="1502" width="10" height="35" fill="#F23645"/>
<rect x="2413" y="1528" width="2" height="13" fill="#F23645"/>
<rect x="2413" y="1565" width="2" height="16" fill="#F23645"/>
<rect x="2409" y="1541" width="10" height="24" fill="#F23645"/>
<rect x="2426" y="1540" width="2" height="3" fill="#F23645"/>
<rect x="2426" y="1608" width="2" height="9" fill="#F23645"/>
<rect x="2422" y="1543" width="10" height="65" fill="#F23645"/>
<rect x="2439" y="1571" width="2" height="13" fill="#089981"/>
<rect x="2439" y="1608" width="2" height="11" fill="#089981"/>
<rect x="2435" y="1584" width="10" height="24" fill="#089981"/>
<rect x="2437" y="1586" width="6" height="20" fill="#2962FF"/>
<rect x="2452" y="1524" width="2" height="22" fill="#089981"/>
<rect x="2452" y="1549" width="2" height="27" fill="#089981"/>
<rect x="2448" y="1546" width="10" height="3" fill="#089981"/>
<rect x="2465" y="1480" width="2" height="43" fill="#089981"/>
<rect x="2465" y="1542" width="2" height="4" fill="#089981"/>
<rect x="2461" y="1523" width="10" height="19" fill="#089981"/>
<rect x="2463" y="1525" width="6" height="15" fill="#2962FF"/>
<rect x="2478" y="1521" width="2" height="9" fill="#089981"/>
<rect x="2478" y="1532" width="2" height="16" fill="#089981"/>
<rect x="2474" y="1530" width="10" height="2" fill="#089981"/>
<rect x="2491" y="1508" width="2" height="18" fill="#089981"/>
<rect x="2491" y="1532" width="2" height="3" fill="#089981"/>
<rect x="2487" y="1526" width="10" height="6" fill="#089981"/>
<rect x="2489" y="1528" width="6" height="2" fill="#2962FF"/>
<rect x="2504" y="1475" width="2" height="20" fill="#089981"/>
<rect x="2504" y="1534" width="2" height="25" fill="#089981"/>
<rect x="2500" y="1495" width="10" height="39" fill="#089981"/>
<rect x="2502" y="1497" width="6" height="35" fill="#2962FF"/>
<rect x="2517" y="1483" width="2" height="10" fill="#F23645"/>
<rect x="2517" y="1496" width="2" height="15" fill="#F23645"/>
<rect x="2513" y="1493" width="10" height="3" fill="#F23645"/>
<rect x="2530" y="1463" width="2" height="10" fill="#089981"/>
<rect x="2530" y="1495" width="2" height="5" fill="#089981"/>
<rect x="2526" y="1473" width="10" height="22" fill="#089981"/>
<rect x="2528" y="1475" width="6" height="18" fill="#2962FF"/>
<rect x="2544" y="1473" width="2" height="2" fill="#F23645"/>
<rect x="2544" y="1486" width="2" height="17" fill="#F23645"/>
<rect x="2540" y="1475" width="10" height="11" fill="#F23645"/>
<rect x="2557" y="1469" width="2" height="21" fill="#F23645"/>
<rect x="2557" y="1509" width="2" height="5" fill="#F23645"/>
<rect x="2553" y="1490" width="10" height="19" fill="#F23645"/>
<rect x="2570" y="1488" width="2" height="12" fill="#F23645"/>
<rect x="2570" y="1504" width="2" height="16" fill="#F23645"/>
<rect x="2566" y="1500" width="10" height="4" fill="#F23645"/>
<rect x="2583" y="1460" width="2" height="8" fill="#089981"/>
<rect x="2583" y="1509" width="2" height="4" fill="#089981"/>
<rect x="2579" y="1468" width="10" height="41" fill="#089981"/>
<rect x="2581" y="1470" width="6" height="37" fill="#2962FF"/>
<rect x="2596" y="1437" width="2" height="8" fill="#089981"/>
<rect x="2596" y="1469" width="2" height="6" fill="#089981"/>
<rect x="2592" y="1445" width="10" height="24" fill="#089981"/>
<rect x="2594" y="1447" width="6" height="20" fill="#2962FF"/>
<rect x="2609" y="1489" width="2" height="10" fill="#F23645"/>
<rect x="2605" y="1450" width="10" height="39" fill="#F23645"/>
<rect x="2618" y="1488" width="10" height="79" fill="#F23645"/>
<rect x="2635" y="1546" width="2" height="2" fill="#089981"/>
<rect x="2635" y="1562" width="2" height="21" fill="#089981"/>
<rect x="2631" y="1548" width="10" height="14" fill="#089981"/>
<rect x="2633" y="1550" width="6" height="10" fill="#2962FF"/>
<rect x="2648" y="1523" width="2" height="8" fill="#089981"/>
<rect x="2648" y="1549" width="2" height="12" fill="#089981"/>
<rect x="2644" y="1531" width="10" height="18" fill="#089981"/>
<rect x="2646" y="1533" width="6" height="14" fill="#2962FF"/>
<rect x="2661" y="1509" width="2" height="17" fill="#F23645"/>
<rect x="2661" y="1552" width="2" height="4" fill="#F23645"/>
<rect x="2657" y="1526" width="10" height="26" fill="#F23645"/>
<rect x="2675" y="1533" width="2" height="3" fill="#F23645"/>
<rect x="2675" y="1542" width="2" height="27" fill="#F23645"/>
<rect x="2671" y="1536" width="10" height="6" fill="#F23645"/>
<rect x="2688" y="1512" width="2" height="26" fill="#F23645"/>
<rect x="2688" y="1549" width="2" height="10" fill="#F23645"/>
<rect x="2684" y="1538" width="10" height="11" fill="#F23645"/>
<rect x="2701" y="1468" width="2" height="60" fill="#089981"/>
<rect x="2697" y="1528" width="10" height="24" fill="#089981"/>
<rect x="2699" y="1530" width="6" height="20" fill="#2962FF"/>
<rect x="2714" y="1513" width="2" height="5" fill="#089981"/>
<rect x="2714" y="1537" width="2" height="9" fill="#089981"/>
<rect x="2710" y="1518" width="10" height="19" fill="#089981"/>
<rect x="2712" y="1520" width="6" height="15" fill="#2962FF"/>
<rect x="2727" y="1508" width="2" height="5" fill="#F23645"/>
<rect x="2727" y="1519" width="2" height="12" fill="#F23645"/>
<rect x="2723" y="1513" width="10" height="6" fill="#F23645"/>
<rect x="2740" y="1522" width="2" height="4" fill="#F23645"/>
<rect x="2740" y="1534" width="2" height="14" fill="#F23645"/>
<rect x="2736" y="1526" width="10" height="8" fill="#F23645"/>
<rect x="2753" y="1536" width="2" height="7" fill="#F23645"/>
<rect x="2749" y="1543" width="10" height="9" fill="#F23645"/>
<rect x="2766" y="1481" width="2" height="27" fill="#089981"/>
<rect x="2766" y="1552" width="2" height="4" fill="#089981"/>
<rect x="2762" y="1508" width="10" height="44" fill="#089981"/>
<rect x="2764" y="1510" width="6" height="40" fill="#2962FF"/>
<rect x="2779" y="1465" width="2" height="48" fill="#F23645"/>
<rect x="2779" y="1522" width="2" height="2" fill="#F23645"/>
<rect x="2775" y="1513" width="10" height="9" fill="#F23645"/>
<rect x="2792" y="1489" width="2" height="18" fill="#089981"/>
<rect x="2792" y="1509" width="2" height="2" fill="#089981"/>
<rect x="2788" y="1507" width="10" height="2" fill="#089981"/>
<rect x="2806" y="1464" width="2" height="34" fill="#F23645"/>
<rect x="2806" y="1504" width="2" height="17" fill="#F23645"/>
<rect x="2802" y="1498" width="10" height="6" fill="#F23645"/>
<rect x="2819" y="1498" width="2" height="5" fill="#F23645"/>
<rect x="2819" y="1514" width="2" height="28" fill="#F23645"/>
<rect x="2815" y="1503" width="10" height="11" fill="#F23645"/>
<rect x="2832" y="1470" width="2" height="38" fill="#089981"/>
<rect x="2832" y="1514" width="2" height="4" fill="#089981"/>
<rect x="2828" y="1508" width="10" height="6" fill="#089981"/>
<rect x="2830" y="1510" width="6" height="2" fill="#2962FF"/>
<rect x="2845" y="1498" width="2" height="8" fill="#F23645"/>
<rect x="2845" y="1534" width="2" height="4" fill="#F23645"/>
<rect x="2841" y="1506" width="10" height="28" fill="#F23645"/>
<rect x="2858" y="1526" width="2" height="10" fill="#F23645"/>
<rect x="2858" y="1544" width="2" height="20" fill="#F23645"/>
<rect x="2854" y="1536" width="10" height="8" fill="#F23645"/>
<rect x="2871" y="1523" width="2" height="3" fill="#089981"/>
<rect x="2871" y="1542" width="2" height="22" fill="#089981"/>
<rect x="2867" y="1526" width="10" height="16" fill="#089981"/>
<rect x="2869" y="1528" width="6" height="12" fill="#2962FF"/>
<rect x="2884" y="1469" width="2" height="39" fill="#089981"/>
<rect x="2880" y="1508" width="10" height="14" fill="#089981"/>
<rect x="2882" y="1510" width="6" height="10" fill="#2962FF"/>
<rect x="2897" y="1498" width="2" height="8" fill="#F23645"/>
<rect x="2897" y="1517" width="2" height="15" fill="#F23645"/>
<rect x="2893" y="1506" width="10" height="11" fill="#F23645"/>
<rect x="2910" y="1498" width="2" height="2" fill="#089981"/>
<rect x="2910" y="1519" width="2" height="21" fill="#089981"/>
<rect x="2906" y="1500" width="10" height="19" fill="#089981"/>
<rect x="2908" y="1502" width="6" height="15" fill="#2962FF"/>
<rect x="2923" y="1490" width="2" height="10" fill="#F23645"/>
<rect x="2923" y="1522" width="2" height="1" fill="#F23645"/>
<rect x="2919" y="1500" width="10" height="22" fill="#F23645"/>
<rect x="2937" y="1526" width="2" height="7" fill="#089981"/>
<rect x="2937" y="1549" width="2" height="8" fill="#089981"/>
<rect x="2933" y="1533" width="10" height="16" fill="#089981"/>
<rect x="2935" y="1535" width="6" height="12" fill="#2962FF"/>
<rect x="2950" y="1466" width="2" height="50" fill="#089981"/>
<rect x="2950" y="1527" width="2" height="6" fill="#089981"/>
<rect x="2946" y="1516" width="10" height="11" fill="#089981"/>
<rect x="2948" y="1518" width="6" height="7" fill="#2962FF"/>
<rect x="2963" y="1490" width="2" height="16" fill="#F23645"/>
<rect x="2963" y="1512" width="2" height="5" fill="#F23645"/>
<rect x="2959" y="1506" width="10" height="6" fill="#F23645"/>
<rect x="2976" y="1490" width="2" height="18" fill="#F23645"/>
<rect x="2976" y="1529" width="2" height="7" fill="#F23645"/>
<rect x="2972" y="1508" width="10" height="21" fill="#F23645"/>
<rect x="2989" y="1435" width="2" height="7" fill="#089981"/>
<rect x="2989" y="1529" width="2" height="16" fill="#089981"/>
<rect x="2985" y="1442" width="10" height="87" fill="#089981"/>
<rect x="2987" y="1444" width="6" height="83" fill="#2962FF"/>
<rect x="3002" y="1442" width="2" height="3" fill="#F23645"/>
<rect x="3002" y="1494" width="2" height="19" fill="#F23645"/>
<rect x="2998" y="1445" width="10" height="49" fill="#F23645"/>
<rect x="3015" y="1461" width="2" height="27" fill="#F23645"/>
<rect x="3015" y="1507" width="2" height="6" fill="#F23645"/>
<rect x="3011" y="1488" width="10" height="19" fill="#F23645"/>
<rect x="3028" y="1537" width="2" height="14" fill="#F23645"/>
<rect x="3024" y="1500" width="10" height="37" fill="#F23645"/>
<rect x="3041" y="1537" width="2" height="11" fill="#F23645"/>
<rect x="3041" y="1577" width="2" height="4" fill="#F23645"/>
<rect x="3037" y="1548" width="10" height="29" fill="#F23645"/>
<rect x="3055" y="1555" width="2" height="21" fill="#F23645"/>
<rect x="3055" y="1580" width="2" height="10" fill="#F23645"/>
<rect x="3051" y="1576" width="10" height="4" fill="#F23645"/>
<rect x="3068" y="1569" width="2" height="2" fill="#F23645"/>
<rect x="3068" y="1605" width="2" height="32" fill="#F23645"/>
<rect x="3064" y="1571" width="10" height="34" fill="#F23645"/>
<rect x="3081" y="1572" width="2" height="24" fill="#089981"/>
<rect x="3081" y="1605" width="2" height="13" fill="#089981"/>
<rect x="3077" y="1596" width="10" height="9" fill="#089981"/>
<rect x="3079" y="1598" width="6" height="5" fill="#2962FF"/>
<rect x="3094" y="1598" width="2" height="14" fill="#F23645"/>
<rect x="3094" y="1643" width="2" height="14" fill="#F23645"/>
<rect x="3090" y="1612" width="10" height="31" fill="#F23645"/>
<rect x="3107" y="1607" width="2" height="2" fill="#089981"/>
<rect x="3107" y="1643" width="2" height="19" fill="#089981"/>
<rect x="3103" y="1609" width="10" height="34" fill="#089981"/>
<rect x="3105" y="1611" width="6" height="30" fill="#2962FF"/>
<rect x="3120" y="1607" width="2" height="5" fill="#F23645"/>
<rect x="3120" y="1618" width="2" height="19" fill="#F23645"/>
<rect x="3116" y="1612" width="10" height="6" fill="#F23645"/>
<rect x="3133" y="1571" width="2" height="31" fill="#089981"/>
<rect x="3133" y="1610" width="2" height="9" fill="#089981"/>
<rect x="3129" y="1602" width="10" height="8" fill="#089981"/>
<rect x="3131" y="1604" width="6" height="4" fill="#2962FF"/>
<rect x="3146" y="1678" width="2" height="2" fill="#F23645"/>
<rect x="3142" y="1602" width="10" height="76" fill="#F23645"/>
<rect x="3159" y="1674" width="2" height="3" fill="#F23645"/>
<rect x="3159" y="1719" width="2" height="9" fill="#F23645"/>
<rect x="3155" y="1677" width="10" height="42" fill="#F23645"/>
<rect x="3172" y="1698" width="2" height="20" fill="#F23645"/>
<rect x="3172" y="1729" width="2" height="4" fill="#F23645"/>
<rect x="3168" y="1718" width="10" height="11" fill="#F23645"/>
<rect x="3186" y="1714" width="2" height="14" fill="#F23645"/>
<rect x="3186" y="1731" width="2" height="30" fill="#F23645"/>
<rect x="3182" y="1728" width="10" height="3" fill="#F23645"/>
<rect x="3199" y="1713" width="2" height="25" fill="#F23645"/>
<rect x="3199" y="1741" width="2" height="12" fill="#F23645"/>
<rect x="3195" y="1738" width="10" height="3" fill="#F23645"/>
<rect x="3212" y="1690" width="2" height="8" fill="#089981"/>
<rect x="3212" y="1752" width="2" height="11" fill="#089981"/>
<rect x="3208" y="1698" width="10" height="54" fill="#089981"/>
<rect x="3210" y="1700" width="6" height="50" fill="#2962FF"/>
<rect x="3225" y="1652" width="2" height="5" fill="#089981"/>
<rect x="3225" y="1699" width="2" height="2" fill="#089981"/>
<rect x="3221" y="1657" width="10" height="42" fill="#089981"/>
<rect x="3223" y="1659" width="6" height="38" fill="#2962FF"/>
<rect x="3238" y="1724" width="2" height="4" fill="#F23645"/>
<rect x="3234" y="1655" width="10" height="69" fill="#F23645"/>
<rect x="3251" y="1679" width="2" height="8" fill="#089981"/>
<rect x="3251" y="1711" width="2" height="2" fill="#089981"/>
<rect x="3247" y="1687" width="10" height="24" fill="#089981"/>
<rect x="3249" y="1689" width="6" height="20" fill="#2962FF"/>
<rect x="3264" y="1686" width="2" height="22" fill="#F23645"/>
<rect x="3260" y="1677" width="10" height="9" fill="#F23645"/>
<rect x="3277" y="1617" width="2" height="20" fill="#089981"/>
<rect x="3277" y="1686" width="2" height="1" fill="#089981"/>
<rect x="3273" y="1637" width="10" height="49" fill="#089981"/>
<rect x="3275" y="1639" width="6" height="45" fill="#2962FF"/>
<rect x="3290" y="1641" width="2" height="14" fill="#089981"/>
<rect x="3290" y="1658" width="2" height="24" fill="#089981"/>
<rect x="3286" y="1655" width="10" height="3" fill="#089981"/>
<rect x="3303" y="1629" width="2" height="26" fill="#089981"/>
<rect x="3303" y="1666" width="2" height="11" fill="#089981"/>
<rect x="3299" y="1655" width="10" height="11" fill="#089981"/>
<rect x="3301" y="1657" width="6" height="7" fill="#2962FF"/>
<rect x="3317" y="1656" width="2" height="19" fill="#089981"/>
<rect x="3317" y="1683" width="2" height="35" fill="#089981"/>
<rect x="3313" y="1675" width="10" height="8" fill="#089981"/>
<rect x="3315" y="1677" width="6" height="4" fill="#2962FF"/>
<rect x="3330" y="1648" width="2" height="12" fill="#089981"/>
<rect x="3330" y="1673" width="2" height="14" fill="#089981"/>
<rect x="3326" y="1660" width="10" height="13" fill="#089981"/>
<rect x="3328" y="1662" width="6" height="9" fill="#2962FF"/>
<rect x="3343" y="1608" width="2" height="24" fill="#089981"/>
<rect x="3343" y="1662" width="2" height="3" fill="#089981"/>
<rect x="3339" y="1632" width="10" height="30" fill="#089981"/>
<rect x="3341" y="1634" width="6" height="26" fill="#2962FF"/>
<rect x="3356" y="1643" width="2" height="4" fill="#F23645"/>
<rect x="3356" y="1651" width="2" height="25" fill="#F23645"/>
<rect x="3352" y="1647" width="10" height="4" fill="#F23645"/>
<rect x="3369" y="1661" width="2" height="4" fill="#F23645"/>
<rect x="3369" y="1676" width="2" height="35" fill="#F23645"/>
<rect x="3365" y="1665" width="10" height="11" fill="#F23645"/>
</g>
<g shape-rendering="crispEdges">
<line x1="20" y1="1675" x2="3442" y2="1675" stroke="#F23645" stroke-width="2" stroke-dasharray="2 4"/>
<line x1="20" y1="1728" x2="3442" y2="1728" stroke="#FF9800" stroke-width="2" stroke-dasharray="2 4"/>
</g>
<text x="20.5" y="39.5" font-size="24" fill="#000000" textLength="758" lengthAdjust="spacingAndGlyphs">crispus9 created with TradingView.com, Mar 10, 2026 11:45 UTC+3</text>
<text x="36.5" y="93.8" font-size="24" fill="#131722" textLength="302" lengthAdjust="spacingAndGlyphs">Bumble Inc. · 1D · NASDAQ</text>
<text x="352.6" y="93.8" font-size="24" fill="#131722" textLength="17.6" lengthAdjust="spacingAndGlyphs">O</text>
<text x="371.5" y="93.8" font-size="24" fill="#F23645" textLength="49" lengthAdjust="spacingAndGlyphs">3.00</text>
<text x="435.6" y="93.8" font-size="24" fill="#131722" textLength="16" lengthAdjust="spacingAndGlyphs">H</text>
<text x="452.6" y="93.8" font-size="24" fill="#F23645" textLength="49" lengthAdjust="spacingAndGlyphs">3.02</text>
<text x="517.2" y="93.8" font-size="24" fill="#131722" textLength="11.5" lengthAdjust="spacingAndGlyphs">L</text>
<text x="530.1" y="93.8" font-size="24" fill="#F23645" textLength="49" lengthAdjust="spacingAndGlyphs">2.82</text>
<text x="593.4" y="93.8" font-size="24" fill="#131722" textLength="16.5" lengthAdjust="spacingAndGlyphs">C</text>
<text x="611.2" y="93.8" font-size="24" fill="#F23645" textLength="49" lengthAdjust="spacingAndGlyphs">2.96</text>
<text x="676" y="93.8" font-size="24" fill="#131722" textLength="33" lengthAdjust="spacingAndGlyphs">Vol</text>
<text x="711.4" y="93.8" font-size="24" fill="#F23645" textLength="46.4" lengthAdjust="spacingAndGlyphs">2.31</text>
<text x="761.2" y="93.8" font-size="24" fill="#F23645" textLength="19.6" lengthAdjust="spacingAndGlyphs">M</text>
<text x="36.5" y="128.3" font-size="24" fill="#131722" textLength="178.6" lengthAdjust="spacingAndGlyphs">EMA (50, close)</text>
<text x="228.4" y="128.3" font-size="24" fill="#2962FF" textLength="50.8" lengthAdjust="spacingAndGlyphs">3.30</text>
<rect x="3450.5" y="62.5" width="95" height="51" rx="8" ry="8" fill="#ffffff" stroke="#eff0f3" stroke-width="1.5"/>
<text x="3493.2" y="96.2" font-size="24" fill="#131722" text-anchor="middle" textLength="49.8" lengthAdjust="spacingAndGlyphs">USD</text>
<text x="3463" y="160.4" font-size="31" fill="#131722" textLength="68.2" lengthAdjust="spacingAndGlyphs">9.00</text>
<text x="3463" y="286.8" font-size="31" fill="#131722" textLength="68.2" lengthAdjust="spacingAndGlyphs">8.50</text>
<text x="3463" y="413.2" font-size="31" fill="#131722" textLength="68.2" lengthAdjust="spacingAndGlyphs">8.00</text>
<text x="3463" y="539.6" font-size="31" fill="#131722" textLength="68.2" lengthAdjust="spacingAndGlyphs">7.50</text>
<text x="3463" y="666.0" font-size="31" fill="#131722" textLength="68.2" lengthAdjust="spacingAndGlyphs">7.00</text>
<text x="3463" y="792.4" font-size="31" fill="#131722" textLength="68.2" lengthAdjust="spacingAndGlyphs">6.50</text>
<text x="3463" y="918.8" font-size="31" fill="#131722" textLength="68.2" lengthAdjust="spacingAndGlyphs">6.00</text>
<text x="3463" y="1045.2" font-size="31" fill="#131722" textLength="68.2" lengthAdjust="spacingAndGlyphs">5.50</text>
<text x="3463" y="1171.6" font-size="31" fill="#131722" textLength="68.2" lengthAdjust="spacingAndGlyphs">5.00</text>
<text x="3463" y="1298.0" font-size="31" fill="#131722" textLength="68.2" lengthAdjust="spacingAndGlyphs">4.50</text>
<text x="3463" y="1424.4" font-size="31" fill="#131722" textLength="68.2" lengthAdjust="spacingAndGlyphs">4.00</text>
<text x="3463" y="1550.8" font-size="31" fill="#131722" textLength="68.2" lengthAdjust="spacingAndGlyphs">3.50</text>
<text x="3463" y="1677.2" font-size="31" fill="#131722" textLength="68.2" lengthAdjust="spacingAndGlyphs">3.00</text>
<text x="3463" y="1803.6" font-size="31" fill="#131722" textLength="68.2" lengthAdjust="spacingAndGlyphs">2.50</text>
<path d="M3444,219 H3540 a4,4 0 0 1 4,4 V261 a4,4 0 0 1 -4,4 H3444 Z" fill="#673AB7"/>
<text x="3464.2" y="253" font-size="31" fill="#ffffff" textLength="68" lengthAdjust="spacingAndGlyphs">8.63</text>
<path d="M3444,1745 H3540 a4,4 0 0 1 4,4 V1787 a4,4 0 0 1 -4,4 H3444 Z" fill="#673AB7"/>
<text x="3464.2" y="1779" font-size="31" fill="#ffffff" textLength="68" lengthAdjust="spacingAndGlyphs">2.59</text>
<g clip-path="url(#plot)">
<text x="29.3" y="1960.2" font-size="33" fill="#131722" text-anchor="middle">Mar</text>
</g>
<text x="304.4" y="1960.2" font-size="33" fill="#131722" text-anchor="middle">Apr</text>
<text x="579.5" y="1960.2" font-size="33" fill="#131722" text-anchor="middle">May</text>
<text x="854.6" y="1960.2" font-size="33" fill="#131722" text-anchor="middle">Jun</text>
<text x="1117" y="1960.2" font-size="33" fill="#131722" text-anchor="middle">Jul</text>
<text x="1405" y="1960.2" font-size="33" fill="#131722" text-anchor="middle">Aug</text>
<text x="1680" y="1960.2" font-size="33" fill="#131722" text-anchor="middle">Sep</text>
<text x="1955.6" y="1960.2" font-size="33" fill="#131722" text-anchor="middle">Oct</text>
<text x="2256.4" y="1960.2" font-size="33" fill="#131722" text-anchor="middle">Nov</text>
<text x="2505.8" y="1960.2" font-size="33" fill="#131722" text-anchor="middle">Dec</text>
<text x="2794.2" y="1960.2" font-size="33" fill="#131722" text-anchor="middle" textLength="83.5" lengthAdjust="spacingAndGlyphs" font-weight="bold">2026</text>
<text x="3055.5" y="1960.2" font-size="33" fill="#131722" text-anchor="middle">Feb</text>
<text x="3304.5" y="1960.2" font-size="33" fill="#131722" text-anchor="middle">Mar</text>
<path d="M617.9,1872.2 H646.1 Q649.6,1872.2 649.6,1875.7 V1897.4 Q649.6,1900.0 647.0,1901.61 L634.6,1909.29 Q632,1910.9 629.4,1909.29 L617.0,1901.61 Q614.4,1900.0 614.4,1897.4 V1875.7 Q614.4,1872.2 617.9,1872.2 Z" fill="#ffffff" stroke="#F23645" stroke-width="3" stroke-linejoin="round"/>
<text x="632.1" y="1896.9" font-size="23.6" fill="#F23645" text-anchor="middle" textLength="14.1" lengthAdjust="spacingAndGlyphs" font-weight="bold">E</text>
<path d="M1429.5,1872.2 H1457.6999999999998 Q1461.1999999999998,1872.2 1461.1999999999998,1875.7 V1897.4 Q1461.1999999999998,1900.0 1458.6,1901.61 L1446.1999999999998,1909.29 Q1443.6,1910.9 1441.0,1909.29 L1428.6,1901.61 Q1426.0,1900.0 1426.0,1897.4 V1875.7 Q1426.0,1872.2 1429.5,1872.2 Z" fill="#ffffff" stroke="#F23645" stroke-width="3" stroke-linejoin="round"/>
<text x="1443.6999999999998" y="1896.9" font-size="23.6" fill="#F23645" text-anchor="middle" textLength="14.1" lengthAdjust="spacingAndGlyphs" font-weight="bold">E</text>
<path d="M2268.3,1872.2 H2296.5 Q2300.0,1872.2 2300.0,1875.7 V1897.4 Q2300.0,1900.0 2297.4,1901.61 L2285.0,1909.29 Q2282.4,1910.9 2279.8,1909.29 L2267.4,1901.61 Q2264.8,1900.0 2264.8,1897.4 V1875.7 Q2264.8,1872.2 2268.3,1872.2 Z" fill="#ffffff" stroke="#F23645" stroke-width="3" stroke-linejoin="round"/>
<text x="2282.5" y="1896.9" font-size="23.6" fill="#F23645" text-anchor="middle" textLength="14.1" lengthAdjust="spacingAndGlyphs" font-weight="bold">E</text>
<rect x="3378.5" y="1871.5" width="35" height="35" rx="3" ry="3" fill="#ffffff" stroke="#E040FB" stroke-width="3"/>
<text x="3396.1" y="1896.8" font-size="24.2" fill="#E040FB" text-anchor="middle" textLength="13.9" lengthAdjust="spacingAndGlyphs" font-weight="bold">E</text>
<path d="M24,2030 H48 V2059.7 H36 V2042 H24 Z" fill="#111111"/>
<circle cx="57.9" cy="2036" r="6" fill="#111111"/>
<path d="M70,2030 H84 L71.8,2059.7 H57.9 Z" fill="#111111"/>
<text x="96.5" y="2059.7" font-size="43" fill="#111111" textLength="244" lengthAdjust="spacingAndGlyphs" font-weight="bold">TradingView</text>
</svg>
</body></html>
